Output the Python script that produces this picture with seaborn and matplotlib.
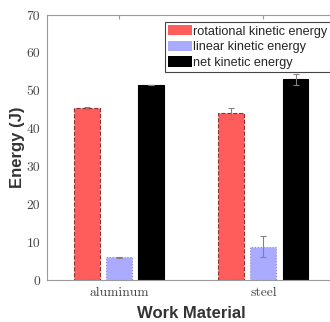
import matplotlib
matplotlib.use("Agg")
import matplotlib.pyplot as plt
import seaborn as sns
import pandas as pd
import numpy as np

materials = ["aluminum", "steel"]
series = ["rotational kinetic energy", "linear kinetic energy", "net kinetic energy"]
rotational = [45.5, 44.0]
linear = [6.0, 8.8]
net = [51.5, 53.0]
rot_err = [0.2, 1.5]
lin_err = [0.2, 2.7]
net_err = [0.1, 1.5]

colors = ["#FF5C5C", "#AAAAFF", "#000000"]

rows = []
for s, vals, errs in zip(series, [rotational, linear, net], [rot_err, lin_err, net_err]):
    for m, v, e in zip(materials, vals, errs):
        rows.append({"Work Material": m, "series": s, "Energy": v, "err": e})
df = pd.DataFrame(rows)

sns.set_style("white")
fig = plt.figure(figsize=(3.3, 3.22), dpi=100)
ax = fig.add_axes([47/330, 1-280/322, 288.5/330, 265/322])

sns.barplot(data=df, x="Work Material", y="Energy", hue="series", hue_order=series,
            order=materials, palette=colors, width=0.67, gap=0.2, errorbar=None,
            saturation=1, ax=ax, legend=True)

edge = {0: ("#8a3535", "--"), 1: ("#9090d0", ":"), 2: ("#000000", "-")}
bar_containers = list(ax.containers)
for i, cont in enumerate(bar_containers):
    ec, ls = edge[i]
    sub = df[df["series"] == series[i]].set_index("Work Material").loc[materials]
    xs, ys = [], []
    for p in cont.patches:
        p.set_edgecolor(ec)
        p.set_linestyle(ls)
        p.set_linewidth(0.8)
        xs.append(p.get_x() + p.get_width()/2)
        ys.append(p.get_height())
    ax.errorbar(xs, ys, yerr=sub["err"].values, fmt="none", ecolor="#8a8080",
                elinewidth=0.8, capsize=2, capthick=0.8, zorder=5)

ax.set_xlim(-0.5, 1.5)
ax.set_ylim(0, 70)
ax.set_yticks(range(0, 71, 10))

for sp in ax.spines.values():
    sp.set_color("#9a9a9a")
    sp.set_linewidth(0.8)
ax.spines["right"].set_visible(False)
ax.tick_params(axis="both", direction="in", length=3, color="#9a9a9a", top=True,
               labelsize=9.8, pad=5)
for lab in ax.get_xticklabels() + ax.get_yticklabels():
    lab.set_fontfamily("cmr10")
    lab.set_color("#444444")

ax.set_xlabel("Work Material", fontsize=12, fontweight="bold", fontfamily="Liberation Sans",
              color="#333333", labelpad=5)
ax.set_ylabel("Energy (J)", fontsize=12, fontweight="bold", fontfamily="Liberation Sans",
              color="#333333", labelpad=1)

leg = ax.legend(loc="upper left", bbox_to_anchor=(165/330, 1-25/322, 190/330, 0.01),
                mode="expand",
                bbox_transform=fig.transFigure, frameon=True, fancybox=False,
                framealpha=1, edgecolor="#444444", handlelength=1.9, handleheight=0.9,
                handletextpad=0.05, labelspacing=0.25, borderpad=0.25, borderaxespad=0,
                prop={"family": "Liberation Sans", "size": 9.1})
leg.get_frame().set_linewidth(0.8)
for h in leg.legend_handles:
    h.set_linestyle("-")
    h.set_edgecolor("none")

fig.savefig("out.png", dpi=100)
